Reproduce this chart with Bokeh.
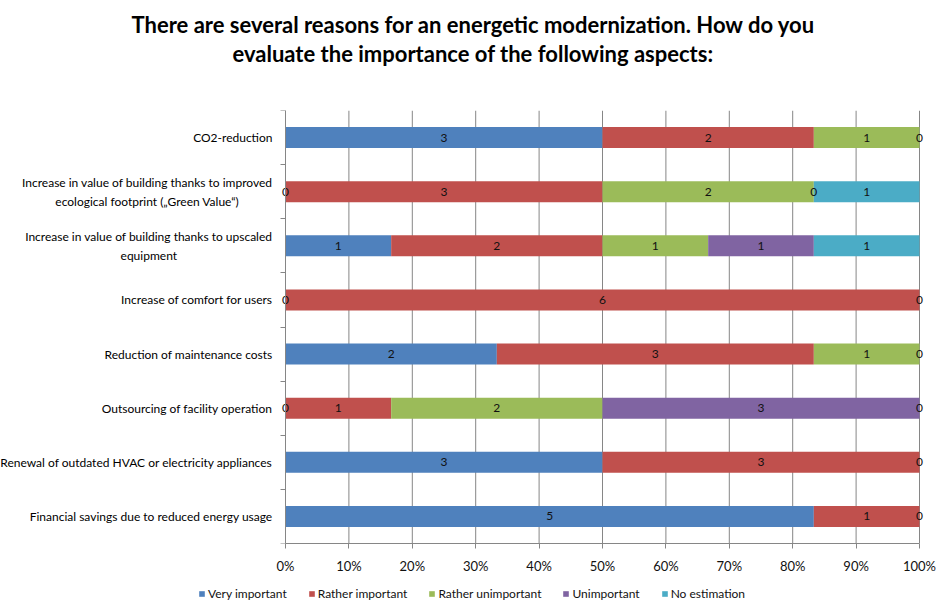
from bokeh.plotting import figure
from bokeh.layouts import column
from bokeh.models import (ColumnDataSource, Range1d, FixedTicker, NumeralTickFormatter,
                          Legend, LegendItem, Title)
from bokeh.core.properties import value
from bokeh.embed import file_html
from bokeh.resources import INLINE

title_lines = ["There are several reasons for an energetic modernization. How do you",
               "evaluate the importance of the following aspects:"]

categories = [
    "CO2-reduction",
    "Increase in value of building thanks to improved\necological footprint (\u201eGreen Value\u201c)",
    "Increase in value of building thanks to upscaled\nequipment",
    "Increase of comfort for users",
    "Reduction of maintenance costs",
    "Outsourcing of facility operation",
    "Renewal of outdated HVAC or electricity appliances",
    "Financial savings due to reduced energy usage",
]

series_names = ["Very important", "Rather important", "Rather unimportant", "Unimportant", "No estimation"]
series_colors = ["#4F81BD", "#C0504D", "#9BBB59", "#8064A2", "#4BACC6"]

very_important     = [3, 0, 1, 0, 2, 0, 3, 5]
rather_important   = [2, 3, 2, 6, 3, 1, 3, 1]
rather_unimportant = [1, 2, 1, 0, 1, 2, 0, 0]
unimportant        = [0, 0, 1, None, 0, 3, None, None]
no_estimation      = [None, 1, 1, None, None, 0, None, None]

x_ticks = [0, 0.1, 0.2, 0.3, 0.4, 0.5, 0.6, 0.7, 0.8, 0.9, 1.0]

series = [very_important, rather_important, rather_unimportant, unimportant, no_estimation]

FONT = "Lato"
GRID = "#868686"
W = 944
MAIN_H, LEG_H = 580, 30
PX_PER_UNIT = 634.0          # pixels for 100 %
AXIS_PX = 285.0              # pixel position of 0 %
RIGHT = 20
TOP, BOTTOM = 110, 37
X_START = -AXIS_PX / PX_PER_UNIT
X_END = (W - RIGHT - AXIS_PX) / PX_PER_UNIT

n = len(categories)
ypos = [i + 0.5 for i in range(n)]
totals = [sum(v for v in col if v is not None) for col in zip(*series)]

p = figure(width=W, height=MAIN_H, output_backend="svg", toolbar_location=None,
           x_range=Range1d(X_START, X_END), y_range=Range1d(n, 0), title=None,
           y_axis_location="right",
           min_border_left=0, min_border_right=RIGHT,
           min_border_top=TOP, min_border_bottom=BOTTOM)
p.outline_line_color = None
p.xgrid.visible = False
p.ygrid.visible = False

# vertical gridlines over the bar area
p.segment(x0=x_ticks, y0=[0] * len(x_ticks), x1=x_ticks, y1=[n] * len(x_ticks),
          line_color=GRID, line_width=1)

# stacked bars
cum = [0.0] * n
lab_x, lab_y, lab_t = [], [], []
for name, color, vals in zip(series_names, series_colors, series):
    left, right, ys = [], [], []
    for i, v in enumerate(vals):
        if v is None:
            continue
        frac = v / totals[i]
        left.append(cum[i])
        right.append(cum[i] + frac)
        ys.append(ypos[i])
        lab_x.append(cum[i] + frac / 2)
        lab_y.append(ypos[i])
        lab_t.append(str(v))
        cum[i] += frac
    src = ColumnDataSource(dict(left=left, right=right, y=ys))
    p.hbar(y="y", left="left", right="right", height=0.39, source=src,
           fill_color=color, line_color=None)

# value labels
lsrc = ColumnDataSource(dict(x=lab_x, y=lab_y, t=lab_t))
p.text(x="x", y="y", text="t", source=lsrc, text_align="center", text_baseline="middle",
       text_font=value(FONT), text_font_size="12px", text_color="#111111")

# category labels (multi-line, centred lines, right-anchored at the axis)
csrc = ColumnDataSource(dict(x=[0] * n, y=ypos, t=categories))
p.text(x="x", y="y", text="t", source=csrc, x_offset=-13, anchor="center_right",
       text_align="center", text_baseline="middle", text_line_height=1.25,
       text_font=value(FONT), text_font_size="12px", text_color="#000000")

# x axis
p.xaxis.ticker = FixedTicker(ticks=x_ticks)
p.xaxis.bounds = (0, 1)
p.xaxis.formatter = NumeralTickFormatter(format="0%")
p.xaxis.axis_line_color = GRID
p.xaxis.major_tick_line_color = GRID
p.xaxis.major_tick_out = 5
p.xaxis.major_tick_in = 0
p.xaxis.minor_tick_line_color = None
p.xaxis.major_label_text_font = FONT
p.xaxis.major_label_text_font_size = "13px"
p.xaxis.major_label_text_color = "#111111"
p.xaxis.major_label_standoff = 9

# category axis line with separators, drawn at 0 %
p.yaxis.fixed_location = 0
p.yaxis.bounds = (0, n)
p.yaxis.ticker = FixedTicker(ticks=[], minor_ticks=list(range(n + 1)))
p.yaxis.axis_line_color = GRID
p.yaxis.major_tick_line_color = None
p.yaxis.minor_tick_line_color = GRID
p.yaxis.minor_tick_out = 0
p.yaxis.minor_tick_in = 5

# title: two lines, stacked above the frame (nearest first)
spacer = Title(text=" ", text_font=FONT, text_font_size="10px", standoff=30)
t2 = Title(text=title_lines[1], align="left", offset=232, standoff=0,
           text_font=FONT, text_font_size="22px", text_font_style="bold", text_color="#000000")
t1 = Title(text=title_lines[0], align="left", offset=131, standoff=0,
           text_font=FONT, text_font_size="22px", text_font_style="bold", text_color="#000000")
p.add_layout(spacer, "above")
p.add_layout(t2, "above")
p.add_layout(t1, "above")

# ---------------- legend strip ----------------
pl = figure(width=W, height=LEG_H, output_backend="svg", toolbar_location=None,
            x_range=Range1d(0, 1), y_range=Range1d(0, 1),
            x_axis_location=None, y_axis_location=None, min_border=0,
            min_border_right=RIGHT, title=None)
pl.outline_line_color = None
pl.grid.visible = False
items = []
for name, color in zip(series_names, series_colors):
    # zero-size bar: only used to give the legend entry its colour swatch
    r = pl.hbar(y=[0.5], left=[0], right=[0], height=0, fill_color=color, line_color=None)
    items.append(LegendItem(label=name, renderers=[r]))
legend = Legend(items=items, orientation="horizontal", location=(198, 9),
                glyph_width=7, glyph_height=7, label_height=14,
                label_text_font=FONT, label_text_font_size="12px",
                label_text_color="#111111", spacing=21, label_standoff=3, padding=0,
                border_line_color=None, background_fill_alpha=0, margin=0)
pl.add_layout(legend)

layout = column(p, pl, spacing=0)
open("out.html", "w").write(file_html(layout, INLINE))
